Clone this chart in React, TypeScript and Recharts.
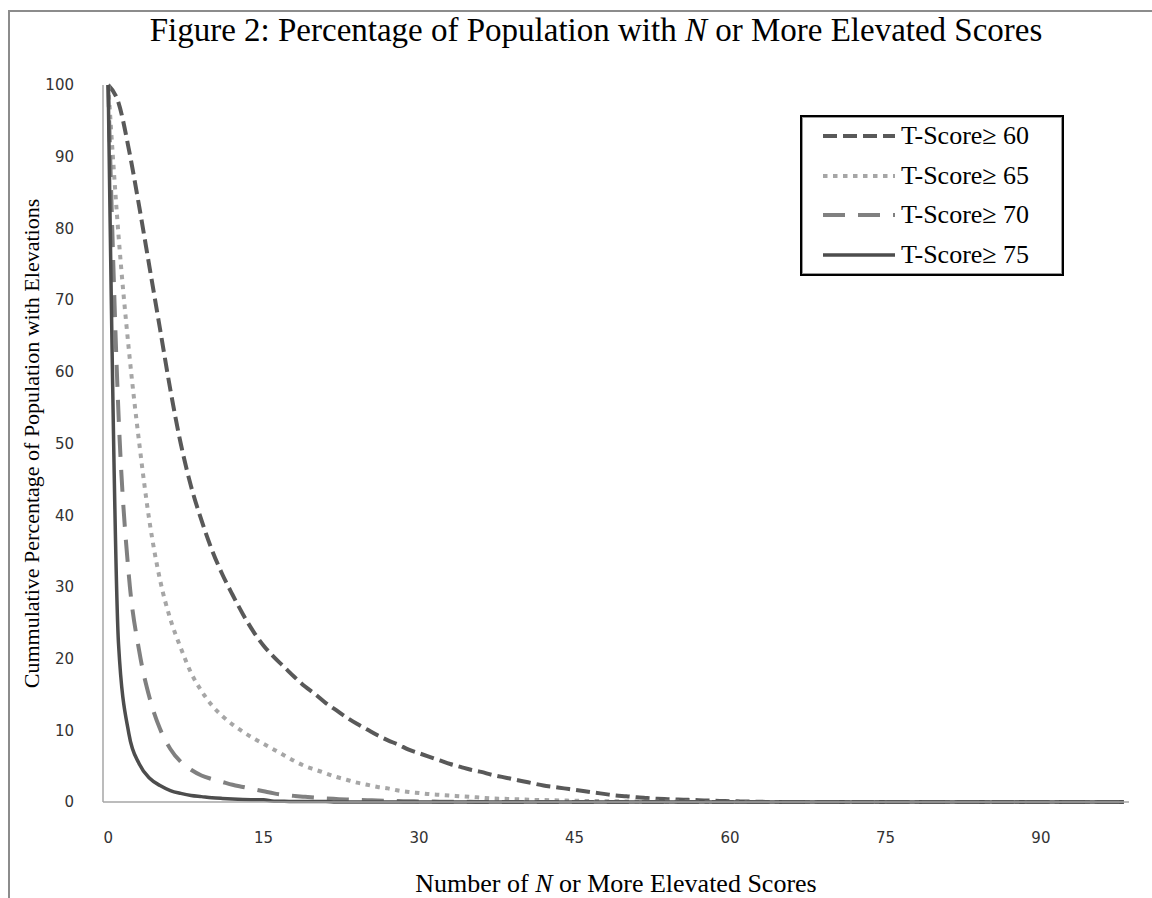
import { LineChart, Line, XAxis, YAxis, Legend } from "recharts";

// N = 0..98 elevated scores
const nValues = [
  0, 1, 2, 3, 4, 5, 6, 7, 8, 9, 10, 11, 12, 13, 14, 15, 16, 17, 18, 19,
  20, 21, 22, 23, 24, 25, 26, 27, 28, 29, 30, 31, 32, 33, 34, 35, 36, 37, 38, 39,
  40, 41, 42, 43, 44, 45, 46, 47, 48, 49, 50, 51, 52, 53, 54, 55, 56, 57, 58, 59,
  60, 61, 62, 63, 64, 65, 66, 67, 68, 69, 70, 71, 72, 73, 74, 75, 76, 77, 78, 79,
  80, 81, 82, 83, 84, 85, 86, 87, 88, 89, 90, 91, 92, 93, 94, 95, 96, 97, 98,
];

const t60 = [
  100, 97.5, 91, 83, 74.5, 66, 57.5, 50, 44, 39.3, 35.2, 31.8, 28.9, 26.2, 23.8, 21.8, 20.2, 18.8, 17.4, 16.1,
  15, 13.8, 12.8, 11.8, 10.9, 10.1, 9.3, 8.6, 8, 7.3, 6.8, 6.3, 5.8, 5.3, 4.9, 4.5, 4.2, 3.8, 3.5, 3.2,
  2.9, 2.6, 2.3, 2.1, 1.9, 1.7, 1.5, 1.3, 1.1, 0.9, 0.8, 0.65, 0.55, 0.45, 0.4, 0.35, 0.3, 0.25, 0.2, 0.15,
  0.12, 0.08, 0.05, 0.03, 0, 0, 0, 0, 0, 0, 0, 0, 0, 0, 0, 0, 0, 0, 0, 0,
  0, 0, 0, 0, 0, 0, 0, 0, 0, 0, 0, 0, 0, 0, 0, 0, 0, 0, 0,
];

const t65 = [
  100, 79, 63, 50, 39, 31, 25.5, 21.5, 18, 15.5, 13.5, 12, 10.8, 9.8, 8.9, 8.1, 7.3, 6.5, 5.7, 5,
  4.5, 4, 3.5, 3.1, 2.7, 2.4, 2.1, 1.9, 1.6, 1.4, 1.25, 1.1, 1, 0.9, 0.8, 0.7, 0.6, 0.5, 0.45, 0.4,
  0.35, 0.3, 0.27, 0.24, 0.2, 0.18, 0.15, 0.13, 0.11, 0.1, 0.08, 0.06, 0.05, 0.04, 0.03, 0.02, 0.02, 0.01, 0, 0,
  0, 0, 0, 0, 0, 0, 0, 0, 0, 0, 0, 0, 0, 0, 0, 0, 0, 0, 0, 0,
  0, 0, 0, 0, 0, 0, 0, 0, 0, 0, 0, 0, 0, 0, 0, 0, 0, 0, 0,
];

const t70 = [
  100, 54, 31.5, 21, 14.5, 10.2, 7.4, 5.6, 4.5, 3.7, 3.2, 2.8, 2.4, 2.1, 1.8, 1.5, 1.2, 1, 0.85, 0.72,
  0.6, 0.5, 0.42, 0.35, 0.3, 0.25, 0.2, 0.16, 0.13, 0.1, 0.08, 0.06, 0.05, 0.04, 0.03, 0.02, 0.01, 0, 0, 0,
  0, 0, 0, 0, 0, 0, 0, 0, 0, 0, 0, 0, 0, 0, 0, 0, 0, 0, 0, 0,
  0, 0, 0, 0, 0, 0, 0, 0, 0, 0, 0, 0, 0, 0, 0, 0, 0, 0, 0, 0,
  0, 0, 0, 0, 0, 0, 0, 0, 0, 0, 0, 0, 0, 0, 0, 0, 0, 0, 0,
];

const t75 = [
  100, 22, 9.5, 5.3, 3.3, 2.3, 1.6, 1.2, 0.9, 0.75, 0.6, 0.5, 0.42, 0.36, 0.32, 0.3, 0.1, 0.09, 0.08, 0.08,
  0.07, 0.06, 0, 0, 0, 0, 0, 0, 0, 0, 0, 0, 0, 0, 0, 0, 0, 0, 0, 0,
  0, 0, 0, 0, 0, 0, 0, 0, 0, 0, 0, 0, 0, 0, 0, 0, 0, 0, 0, 0,
  0, 0, 0, 0, 0, 0, 0, 0, 0, 0, 0, 0, 0, 0, 0, 0, 0, 0, 0, 0,
  0, 0, 0, 0, 0, 0, 0, 0, 0, 0, 0, 0, 0, 0, 0, 0, 0, 0, 0,
];

const xTicks = [0, 15, 30, 45, 60, 75, 90];
const yTicks = [0, 10, 20, 30, 40, 50, 60, 70, 80, 90, 100];

const seriesNames = ["T-Score\u2265 60", "T-Score\u2265 65", "T-Score\u2265 70", "T-Score\u2265 75"];

const chartData = nValues.map((n, i) => ({
  n,
  t60: t60[i],
  t65: t65[i],
  t70: t70[i],
  t75: t75[i],
}));

const SERIF = '"Liberation Serif", "Times New Roman", serif';
const SANS = '"DejaVu Sans", Verdana, sans-serif';

const lineStyles = [
  { key: "t60", color: "#595959", dash: "14 6", width: 4 },
  { key: "t65", color: "#a6a6a6", dash: "4.5 5.5", width: 4 },
  { key: "t70", color: "#808080", dash: "22 13", width: 4 },
  { key: "t75", color: "#4d4d4d", dash: undefined, width: 3.5 },
];

function LegendBox() {
  return (
    <div
      style={{
        width: 260,
        height: 157,
        border: "2px solid #000",
        boxShadow: "inset 0 0 0 1px #999",
        background: "#fff",
        boxSizing: "content-box",
      }}
    >
      {lineStyles.map((s, i) => (
        <div
          key={s.key}
          style={{
            position: "absolute",
            left: 23,
            top: 5 + i * 39.5,
            height: 32,
            display: "flex",
            alignItems: "center",
          }}
        >
          <svg width={74} height={10} style={{ display: "block" }}>
            <line
              x1={0}
              y1={5}
              x2={72}
              y2={5}
              stroke={s.color}
              strokeWidth={s.width}
              strokeDasharray={s.dash}
            />
          </svg>
          <span
            style={{
              fontFamily: SERIF,
              fontSize: 26,
              color: "#000",
              whiteSpace: "nowrap",
              marginLeft: 4,
            }}
          >
            {seriesNames[i]}
          </span>
        </div>
      ))}
    </div>
  );
}

export default function App() {
  return (
    <div style={{ position: "absolute", left: 0, top: 0, width: 1152, height: 898, background: "#fff", overflow: "hidden" }}>
      <div
        style={{
          position: "absolute",
          left: 8,
          top: 10,
          width: 1160,
          height: 900,
          borderTop: "2px solid #8c8c8c",
          borderLeft: "2px solid #8c8c8c",
        }}
      />
      <div
        style={{
          position: "absolute",
          left: 0,
          top: 12,
          width: 1192,
          textAlign: "center",
          fontFamily: SERIF,
          fontSize: 33,
          color: "#000",
          whiteSpace: "nowrap",
        }}
      >
        Figure 2: Percentage of Population with <i>N</i> or More Elevated Scores
      </div>
      <div style={{ position: "absolute", left: 0, top: 0 }}>
        <LineChart
          width={1152}
          height={898}
          data={chartData}
          margin={{ top: 85, right: 23, left: 43, bottom: 66 }}
        >
          <XAxis
            dataKey="n"
            type="number"
            domain={[-0.5, 98.5]}
            ticks={xTicks}
            interval={0}
            height={30}
            tickLine={false}
            tickSize={0}
            tickMargin={30}
            axisLine={{ stroke: "#a6a6a6", strokeWidth: 1.5 }}
            tick={{ fill: "#333", fontSize: 15, fontFamily: SANS }}
            label={(props: any) => {
              const vb = props.viewBox || {};
              const cx = vb.x + vb.width / 2;
              return (
                <text
                  x={cx}
                  y={892}
                  textAnchor="middle"
                  fontFamily={SERIF}
                  fontSize={26}
                  fill="#000"
                >
                  Number of <tspan fontStyle="italic">N</tspan> or More Elevated Scores
                </text>
              );
            }}
          />
          <YAxis
            type="number"
            domain={[0, 100]}
            ticks={yTicks}
            interval={0}
            width={60}
            tickLine={false}
            tickSize={0}
            tickMargin={29}
            axisLine={{ stroke: "#a6a6a6", strokeWidth: 1.5 }}
            tick={{ fill: "#333", fontSize: 15, fontFamily: SANS }}
            label={(props: any) => {
              const vb = props.viewBox || {};
              const cy = vb.y + vb.height / 2;
              return (
                <text
                  x={31}
                  y={cy}
                  textAnchor="middle"
                  dominantBaseline="central"
                  transform={`rotate(-90 31 ${cy})`}
                  fontFamily={SERIF}
                  fontSize={22}
                  fill="#000"
                >
                  Cummulative Percentage of Population with Elevations
                </text>
              );
            }}
          />
          <Legend
            layout="horizontal"
            verticalAlign="middle"
            align="center"
            content={() => <LegendBox />}
            wrapperStyle={{ position: "absolute", left: 800, top: 115, width: 264, height: 161 }}
          />
          {lineStyles.map((s, i) => (
            <Line
              key={s.key}
              type="monotone"
              dataKey={s.key}
              name={seriesNames[i]}
              stroke={s.color}
              strokeWidth={s.width}
              strokeDasharray={s.dash}
              dot={false}
              activeDot={false}
              isAnimationActive={false}
            />
          ))}
        </LineChart>
      </div>
    </div>
  );
}
